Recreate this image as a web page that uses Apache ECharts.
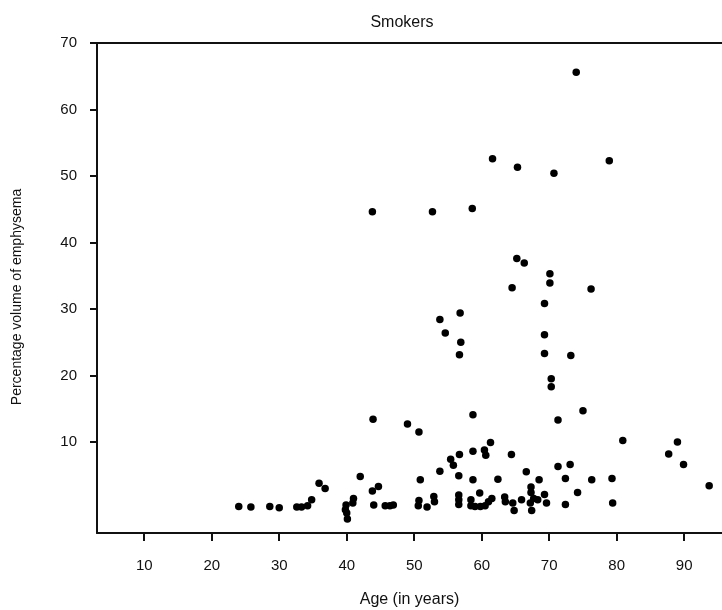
<!DOCTYPE html>
<html><head><meta charset="utf-8">
<script src="https://cdn.jsdelivr.net/npm/echarts@6/dist/echarts.min.js"></script>
<style>html,body{margin:0;padding:0;background:#fff}#c{width:722px;height:610px}</style>
</head><body><div id="c"></div>
<script>
// Age (years) of each smoker
const ages = [
  43.8, 52.7, 58.6, 61.6, 65.3, 70.7, 78.9, 74.0,
  65.2, 66.3, 64.5, 70.1, 70.1, 76.2, 69.3,
  56.8, 53.8, 54.6, 56.9, 56.7, 69.3, 69.3, 73.2,
  70.3, 70.3, 75.0, 71.3, 58.7, 43.9, 49.0, 50.7,
  80.9, 89.0, 87.7, 89.9, 93.7, 79.3, 79.4, 76.3, 74.2,
  73.1, 71.3, 72.4, 72.4, 64.4, 61.3, 60.4, 60.6, 58.7,
  58.7, 62.4, 66.6, 68.5, 67.3, 67.3, 69.3, 69.6,
  67.2, 67.4, 67.7, 68.3,
  65.9, 64.6, 64.8, 63.4, 63.5, 59.7,
  58.4, 58.4, 59.0, 59.8, 60.5, 61.0, 61.5,
  56.7, 55.4, 55.8, 53.8, 50.9, 56.6,
  50.7, 50.6, 51.9, 52.9, 53.0, 56.6, 56.6, 56.6,
  24.0, 25.8, 28.6, 30.0, 32.6, 33.3, 34.2, 34.8, 35.9, 36.8,
  39.9, 39.8, 40.0, 40.1, 41.0, 40.9, 42.0, 43.8, 44.7, 44.0,
  45.7, 46.4, 46.9
];
// Percentage volume of emphysema for the same smokers
const pctVolume = [
  44.6, 44.6, 45.1, 52.6, 51.3, 50.4, 52.3, 65.6,
  37.6, 36.9, 33.2, 35.3, 33.9, 33.0, 30.8,
  29.4, 28.4, 26.4, 25.0, 23.1, 26.1, 23.3, 23.0,
  19.5, 18.3, 14.7, 13.3, 14.1, 13.4, 12.7, 11.5,
  10.2, 10.0, 8.2, 6.6, 3.4, 4.5, 0.8, 4.3, 2.4,
  6.6, 6.3, 4.5, 0.6, 8.1, 9.9, 8.8, 8.0, 8.6,
  4.3, 4.4, 5.5, 4.3, 3.2, 2.4, 2.1, 0.8,
  0.8, -0.3, 1.5, 1.3,
  1.3, 0.8, -0.3, 1.7, 1.0, 2.3,
  1.3, 0.4, 0.3, 0.3, 0.4, 1.0, 1.5,
  8.1, 7.4, 6.5, 5.6, 4.3, 4.9,
  1.2, 0.4, 0.2, 1.8, 1.0, 2.0, 1.3, 0.6,
  0.3, 0.2, 0.3, 0.1, 0.2, 0.2, 0.4, 1.3, 3.8, 3.0,
  0.5, -0.2, -0.7, -1.6, 1.5, 0.8, 4.8, 2.6, 3.3, 0.5,
  0.4, 0.4, 0.5
];
const xTicks = [10, 20, 30, 40, 50, 60, 70, 80, 90];
const yTicks = [10, 20, 30, 40, 50, 60, 70];
const chartTitle = 'Smokers';
const xName = 'Age (in years)';
const yName = 'Percentage volume of emphysema';

const points = ages.map((a, i) => [a, pctVolume[i]]);
const font = '"Liberation Sans", Arial, sans-serif';
const chart = echarts.init(document.getElementById('c'), null, {renderer: 'canvas'});
chart.setOption({
  animation: false,
  backgroundColor: '#fff',
  title: {text: chartTitle, left: 397, top: 10, textAlign: 'center',
    textStyle: {fontFamily: font, fontSize: 16, fontWeight: 'normal', color: '#111'}},
  grid: {left: 97, top: 43, right: 0, bottom: 77, containLabel: false, outerBoundsMode: 'none'},
  xAxis: [{
    type: 'value', min: 3, max: 95.6, position: 'bottom',
    name: xName, nameLocation: 'middle', nameGap: 59,
    nameTextStyle: {fontFamily: font, fontSize: 16, color: '#111'},
    axisLine: {show: true, onZero: false, lineStyle: {color: '#111', width: 2}},
    axisTick: {show: true, length: 8, lineStyle: {color: '#111', width: 2}, customValues: xTicks},
    axisLabel: {fontFamily: font, fontSize: 15, color: '#111', margin: 25, customValues: xTicks},
    splitLine: {show: false}
  }, {
    type: 'value', min: 3, max: 95.6, position: 'top',
    axisLine: {show: true, onZero: false, lineStyle: {color: '#111', width: 2}},
    axisTick: {show: false}, axisLabel: {show: false}, splitLine: {show: false}
  }],
  yAxis: {
    type: 'value', min: -3.7, max: 70,
    name: yName, nameLocation: 'middle', nameGap: 73, nameRotate: 90,
    nameTextStyle: {fontFamily: font, fontSize: 14, color: '#111', padding: [0, 18, 0, 0]},
    axisLine: {show: true, onZero: false, lineStyle: {color: '#111', width: 2}},
    axisTick: {show: true, length: 7, lineStyle: {color: '#111', width: 2}, customValues: yTicks},
    axisLabel: {fontFamily: font, fontSize: 15, color: '#111', margin: 20, customValues: yTicks},
    splitLine: {show: false}
  },
  series: [{
    type: 'scatter', xAxisIndex: 0, data: points,
    symbol: 'circle', symbolSize: 7.5,
    itemStyle: {color: '#000', opacity: 1}
  }]
});
</script></body></html>
